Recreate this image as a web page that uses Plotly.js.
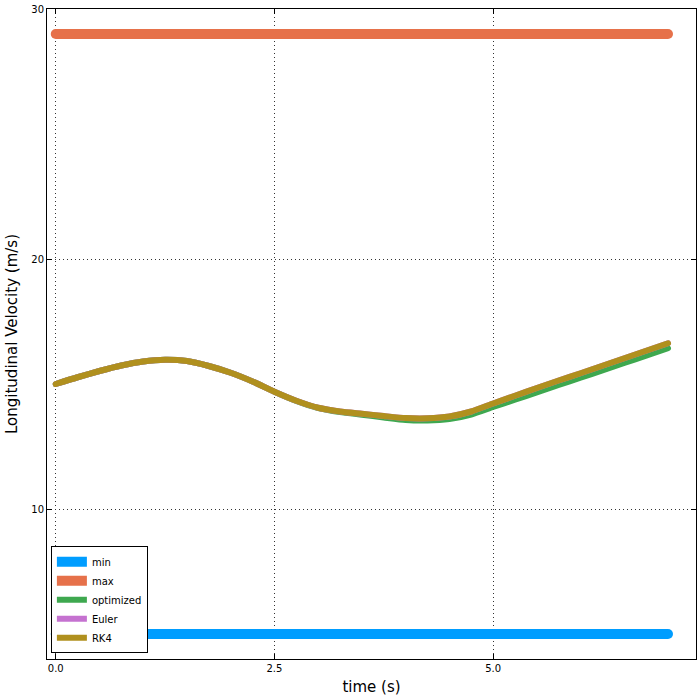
<!DOCTYPE html>
<html>
<head>
<meta charset="utf-8">
<script src="https://cdn.plot.ly/plotly-3.0.1.min.js"></script>
<style>
html,body{margin:0;padding:0;background:#fff;}
#chart{width:700px;height:700px;}
.scatterlayer .js-line {stroke-linecap: round;}
</style>
</head>
<body>
<div id="chart"></div>
<script>
const time = [0, 0.25, 0.5, 0.75, 1.0, 1.25, 1.5, 1.75, 2.0, 2.25, 2.5, 2.75, 3.0, 3.25, 3.5, 3.75, 4.0, 4.25, 4.5, 4.75, 5.0, 5.25, 5.5, 5.75, 6.0, 6.25, 6.5, 6.75, 7.0];
const minVel = [5, 5, 5, 5, 5, 5, 5, 5, 5, 5, 5, 5, 5, 5, 5, 5, 5, 5, 5, 5, 5, 5, 5, 5, 5, 5, 5, 5, 5];
const maxVel = [29, 29, 29, 29, 29, 29, 29, 29, 29, 29, 29, 29, 29, 29, 29, 29, 29, 29, 29, 29, 29, 29, 29, 29, 29, 29, 29, 29, 29];
const optimized = [15.0, 15.27, 15.52, 15.74, 15.90, 15.97, 15.92, 15.72, 15.45, 15.10, 14.69, 14.32, 14.04, 13.88, 13.77, 13.66, 13.56, 13.54, 13.60, 13.78, 14.08, 14.37, 14.66, 14.96, 15.25, 15.54, 15.84, 16.13, 16.43];
const euler = [15.0, 15.27, 15.52, 15.74, 15.90, 15.97, 15.92, 15.72, 15.45, 15.10, 14.69, 14.33, 14.05, 13.90, 13.81, 13.72, 13.64, 13.63, 13.70, 13.90, 14.22, 14.53, 14.84, 15.14, 15.43, 15.73, 16.03, 16.33, 16.63];
const rk4 = [15.0, 15.27, 15.52, 15.74, 15.90, 15.97, 15.92, 15.72, 15.45, 15.10, 14.69, 14.33, 14.05, 13.90, 13.81, 13.72, 13.64, 13.63, 13.70, 13.90, 14.22, 14.53, 14.84, 15.14, 15.43, 15.73, 16.03, 16.33, 16.63];
const xTicks = [0, 2.5, 5.0];
const xTickText = ["0.0", "2.5", "5.0"];
const yTicks = [10, 20, 30];

const mk = (name, y, color, width) => ({
  x: time, y: y, name: name, type: 'scatter', mode: 'lines',
  line: {color: color, width: width, shape: 'spline', smoothing: 0.6}
});
const data = [
  mk('min', minVel, '#009dff', 10),
  mk('max', maxVel, '#e6714a', 10),
  mk('optimized', optimized, '#3ea84f', 6),
  mk('Euler', euler, '#c572d0', 6),
  mk('RK4', rk4, '#b0901e', 6)
];
const axisCommon = {
  showline: true, linecolor: 'black', linewidth: 1, mirror: 'ticks',
  ticks: 'inside', ticklen: 5, tickcolor: 'black',
  showgrid: true, gridcolor: '#333', gridwidth: 1, griddash: '1px,3px',
  zeroline: false, tickfont: {family: 'DejaVu Sans', size: 10, color: 'black'}
};
const layout = {
  width: 700, height: 700,
  margin: {l: 47, r: 4, t: 9, b: 41},
  paper_bgcolor: 'white', plot_bgcolor: 'white',
  showlegend: true,
  legend: {x: 0.006, y: 0.009, xanchor: 'left', yanchor: 'bottom',
    bordercolor: 'black', borderwidth: 1, bgcolor: 'white',
    font: {family: 'DejaVu Sans', size: 10, color: 'black'},
    tracegroupgap: 0, itemwidth: 30},
  xaxis: Object.assign({}, axisCommon, {
    range: [-0.1, 7.32], tickvals: xTicks, ticktext: xTickText,
    title: {text: 'time (s)', font: {family: 'DejaVu Sans', size: 15, color: 'black'}, standoff: 8}
  }),
  yaxis: Object.assign({}, axisCommon, {
    range: [4, 30], tickvals: yTicks,
    title: {text: 'Longitudinal Velocity (m/s)', font: {family: 'DejaVu Sans', size: 15, color: 'black'}, standoff: 10}
  })
};
Plotly.newPlot('chart', data, layout, {displayModeBar: false, staticPlot: true});
</script>
</body>
</html>
